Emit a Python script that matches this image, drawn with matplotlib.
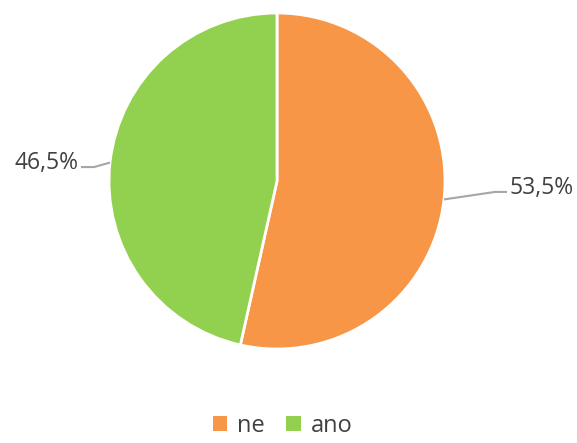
import numpy as np
import matplotlib
matplotlib.use("Agg")
import matplotlib.pyplot as plt
from matplotlib.patches import Patch

labels = ["ne", "ano"]
values = [53.5, 46.5]
colors = ["#F79646", "#92D050"]
pct_labels = ["53,5%", "46,5%"]

plt.rcParams['font.family'] = ['Open Sans', 'DejaVu Sans']

W, H = 577, 443
fig = plt.figure(figsize=(W / 100, H / 100), dpi=100)
cx, cy, r = 277, 181, 168
ax = fig.add_axes([(cx - r) / W, (H - cy - r) / H, 2 * r / W, 2 * r / H])

wedges, _ = ax.pie(values, colors=colors, startangle=90, counterclock=False,
                   radius=1.0, wedgeprops=dict(edgecolor="white", linewidth=2))
ax.set_xlim(-1, 1)
ax.set_ylim(-1, 1)
ax.set_aspect("equal")
ax.axis("off")

# leader lines + labels
total = sum(values)
start = 90.0
for i, v in enumerate(values):
    span = 360.0 * v / total
    mid = np.deg2rad(start - span / 2)
    start -= span
    x0, y0 = np.cos(mid), np.sin(mid)
    side = 1 if x0 > 0 else -1
    if side > 0:
        elbow = (1.298, -0.065)
        end = (1.369, -0.065)
    else:
        elbow = (-1.089, 0.083)
        end = (-1.167, 0.083)
    ax.plot([x0, elbow[0], end[0]], [y0, elbow[1], end[1]], color="#A6A6A6",
            lw=1.5, clip_on=False, solid_capstyle="butt")
    ax.text(end[0] + side * 0.015, end[1] + 0.025, pct_labels[i],
            ha="left" if side > 0 else "right", va="center",
            fontsize=16.5, color="#404040", clip_on=False)

handles = [Patch(facecolor=c, edgecolor="none") for c in colors]
leg = fig.legend(handles, labels, loc="lower center", bbox_to_anchor=(0.49, 0.0),
                 ncol=2, frameon=False, fontsize=17, handlelength=0.6, handleheight=0.6,
                 handletextpad=0.45, columnspacing=0.9, labelcolor="#404040",
                 borderpad=0.1, borderaxespad=0.1)

fig.savefig("out.png", dpi=100)
